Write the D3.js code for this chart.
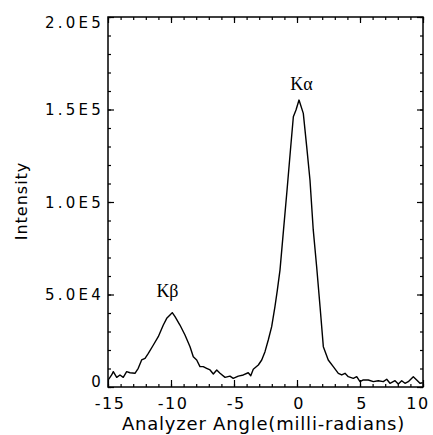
<!DOCTYPE html>
<html>
<head>
<meta charset="utf-8">
<script src="https://cdn.jsdelivr.net/npm/d3@7"></script>
<style>
  body { margin: 0; background: #fff; }
</style>
</head>
<body>
<svg id="chart" width="433" height="435"></svg>
<script>
// data
const angle = [-14.98, -14.71, -14.58, -14.31, -14.05, -13.79, -13.52, -13.25, -12.86, -12.60,
  -12.33, -12.06, -11.80, -11.40, -11.01, -10.61, -10.34, -10.08, -9.90, -9.68,
  -9.29, -8.89, -8.49, -8.23, -7.96, -7.70, -7.44, -7.17, -6.90, -6.64,
  -6.37, -6.11, -5.71, -5.32, -5.06, -4.66, -4.26, -3.87, -3.67, -3.47,
  -3.07, -2.80, -2.54, -2.28, -2.01, -1.75, -1.56, -1.35, -1.07, -0.79,
  -0.52, -0.29, -0.08, 0.16, 0.50, 0.77, 1.03, 1.29, 1.56, 1.83,
  2.09, 2.48, 2.88, 3.28, 3.55, 3.81, 4.07, 4.47, 4.74, 5.00,
  5.26, 5.66, 6.06, 6.45, 6.85, 7.12, 7.38, 7.78, 8.04, 8.31,
  8.57, 8.83, 9.23, 9.50, 9.76, 9.98];
const intensity = [3800, 6500, 8300, 5200, 6500, 5200, 8300, 7700, 7400, 10100,
  14600, 15500, 18200, 22700, 27200, 33500, 37100, 38900, 40200, 38000,
  33500, 28100, 21800, 16400, 14600, 11000, 11000, 10100, 9200, 7000,
  9200, 7400, 5200, 5900, 4700, 5900, 6500, 7700, 6100, 9600,
  11900, 14600, 19100, 25400, 32600, 43400, 52400, 63200, 84900, 106500,
  128100, 146100, 149700, 155100, 147900, 129900, 111900, 84900, 65000, 43400,
  21800, 14600, 11000, 7400, 6500, 7400, 5600, 4700, 5600, 2900,
  3800, 3800, 2900, 3400, 2900, 4200, 2000, 3400, 1600, 3400,
  2000, 2900, 5600, 3800, 2000, 2300];

const xMajor = [-15, -10, -5, 0, 5, 10];
const xTickLabels = ["-15", "-10", "-5", "0", "5", "10"];
const yMajor = [0, 50000, 100000, 150000, 200000];
const yTickLabels = ["0", "5.0E4", "1.0E5", "1.5E5", "2.0E5"];

const peakNames = ["K\u03B2", "K\u03B1"];
const peakAngle = [-10.28, 0.36];
const peakLabelY = [48900, 160500];

const xTitle = "Analyzer Angle(milli-radians)";
const yTitle = "Intensity";

const margin = {top: 17, right: 10, bottom: 48, left: 108};
const svg = d3.select("#chart");
const width = +svg.attr("width") - margin.left - margin.right;
const height = +svg.attr("height") - margin.top - margin.bottom;

const x = d3.scaleLinear().domain([-15, 10]).range([0, width]);
const y = d3.scaleLinear().domain([0, 200000]).range([height, 0]);

const g = svg.append("g")
  .attr("transform", "translate(" + margin.left + "," + margin.top + ")");

const xMinor = d3.range(-15, 10.5, 1);
const yMinor = d3.range(0, 200001, 10000);

function styleAxis(sel) {
  sel.select(".domain").remove();
  sel.selectAll("line").attr("stroke", "#000").attr("stroke-width", 1.2);
}

// minor ticks, all four sides, pointing inwards
g.append("g").attr("transform", "translate(0," + height + ")")
  .call(d3.axisBottom(x).tickValues(xMinor).tickSize(-3).tickFormat(""))
  .call(styleAxis);
g.append("g")
  .call(d3.axisTop(x).tickValues(xMinor).tickSize(-3).tickFormat(""))
  .call(styleAxis);
g.append("g")
  .call(d3.axisLeft(y).tickValues(yMinor).tickSize(-3).tickFormat(""))
  .call(styleAxis);
g.append("g").attr("transform", "translate(" + width + ",0)")
  .call(d3.axisRight(y).tickValues(yMinor).tickSize(-3).tickFormat(""))
  .call(styleAxis);

// major ticks
g.append("g")
  .call(d3.axisTop(x).tickValues(xMajor).tickSize(-6).tickFormat(""))
  .call(styleAxis);
g.append("g").attr("transform", "translate(" + width + ",0)")
  .call(d3.axisRight(y).tickValues(yMajor).tickSize(-6).tickFormat(""))
  .call(styleAxis);

const xAxis = g.append("g").attr("transform", "translate(0," + height + ")")
  .call(d3.axisBottom(x).tickValues(xMajor).tickSize(-7).tickPadding(11)
    .tickFormat(function(d, i) { return xTickLabels[i]; }))
  .call(styleAxis);
xAxis.selectAll("text")
  .attr("font-family", "DejaVu Sans, sans-serif")
  .attr("font-size", "16px")
  .attr("letter-spacing", "1.5px")
  .attr("fill", "#000")
  .attr("dx", function(d) { return d === 10 ? "-0.35em" : "0.1em"; });

const yAxis = g.append("g")
  .call(d3.axisLeft(y).tickValues(yMajor).tickSize(-6).tickPadding(4)
    .tickFormat(function(d, i) { return yTickLabels[i]; }))
  .call(styleAxis);
yAxis.selectAll("text")
  .attr("font-family", "DejaVu Sans, sans-serif")
  .attr("font-size", "15px")
  .attr("letter-spacing", "3.2px")
  .attr("fill", "#000")
  .attr("dy", function(d) {
    // end labels are pulled inside the frame
    if (d === 0) return "-0.05em";
    if (d === 200000) return "0.68em";
    return "0.34em";
  });

// frame
g.append("rect")
  .attr("x", 0).attr("y", 0)
  .attr("width", width).attr("height", height)
  .attr("fill", "none")
  .attr("stroke", "#000")
  .attr("stroke-width", 1.5);

// spectrum
const line = d3.line()
  .x(function(d, i) { return x(angle[i]); })
  .y(function(d) { return y(d); });

g.append("path")
  .datum(intensity)
  .attr("fill", "none")
  .attr("stroke", "#000")
  .attr("stroke-width", 1.4)
  .attr("stroke-linejoin", "round")
  .attr("d", line);

// peak names
g.selectAll(".peak")
  .data(peakNames)
  .enter().append("text")
  .attr("class", "peak")
  .attr("x", function(d, i) { return x(peakAngle[i]); })
  .attr("y", function(d, i) { return y(peakLabelY[i]); })
  .attr("text-anchor", "middle")
  .attr("font-family", "Liberation Serif, Times New Roman, serif")
  .attr("font-size", "18px")
  .attr("fill", "#000")
  .text(function(d) { return d; });

// axis titles
svg.append("text")
  .attr("x", margin.left + width / 2 - 2)
  .attr("y", 430)
  .attr("text-anchor", "middle")
  .attr("font-family", "DejaVu Sans, sans-serif")
  .attr("font-size", "18px")
  .attr("letter-spacing", "0.8px")
  .attr("fill", "#000")
  .text(xTitle);

svg.append("text")
  .attr("transform", "translate(27," + (margin.top + 184) + ") rotate(-90)")
  .attr("text-anchor", "middle")
  .attr("font-family", "DejaVu Sans, sans-serif")
  .attr("font-size", "16px")
  .attr("letter-spacing", "1px")
  .attr("fill", "#000")
  .text(yTitle);
</script>
</body>
</html>
